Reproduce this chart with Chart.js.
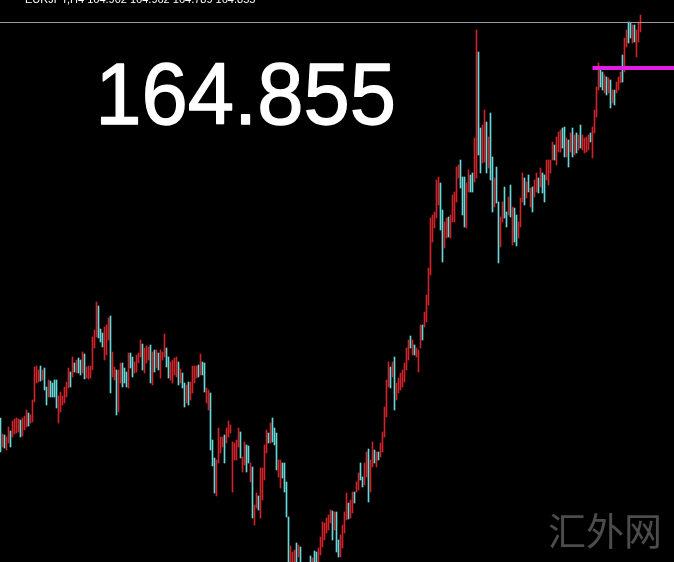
<!DOCTYPE html>
<html>
<head>
<meta charset="utf-8">
<script src="https://cdn.jsdelivr.net/npm/chart.js@4/dist/chart.umd.min.js"></script>
<style>
html,body{margin:0;padding:0;background:#000;overflow:hidden;}
canvas{display:block;}
</style>
</head>
<body>
<canvas id="c" width="674" height="562"></canvas>
<script>
// Bar highs (price), one per bar, left to right
const highs = [
157.88,157.56,157.54,157.50,157.70,157.62,157.82,157.86,157.88,157.86,
157.84,157.88,157.92,158.04,157.98,157.94,158.24,158.90,158.92,158.84,
158.92,158.84,158.88,158.50,158.64,158.62,158.58,158.64,158.64,158.32,
158.40,158.32,158.50,158.60,158.88,158.80,159.10,158.98,159.04,159.08,
159.04,159.20,159.16,158.90,158.92,158.92,159.50,159.64,160.20,160.12,
159.66,159.58,159.70,159.74,159.88,159.92,159.20,158.90,158.84,158.84,
158.98,158.98,158.88,158.80,159.18,159.18,159.10,159.00,159.14,159.18,
159.44,159.36,159.28,159.32,159.30,159.34,159.20,159.24,159.24,159.18,
159.24,159.20,159.56,159.28,159.10,159.00,159.04,159.08,159.10,159.00,
158.86,158.78,158.58,158.54,158.60,158.60,158.92,158.92,158.92,158.94,
159.16,159.00,158.98,158.48,158.44,158.38,157.44,157.08,157.04,157.68,
157.50,157.50,157.54,157.68,157.82,157.74,157.40,157.38,157.44,157.68,
157.60,157.10,157.40,157.34,157.32,156.98,156.90,156.14,156.38,156.32,
156.88,156.88,157.34,157.64,157.58,157.78,157.88,157.68,157.58,157.04,
157.04,156.98,156.98,156.60,155.90,155.32,155.20,155.24,155.38,155.34,
155.30,154.94,154.92,154.88,154.92,155.12,155.08,155.22,155.20,155.28,
155.50,155.80,155.78,155.88,155.94,156.04,156.02,156.00,156.00,155.44,
155.54,155.74,156.00,156.38,156.18,156.24,156.40,156.40,156.60,156.78,
156.98,156.70,156.98,157.20,157.26,157.04,157.40,157.24,157.20,157.20,
157.38,157.60,158.10,158.64,159.00,158.90,159.00,159.10,158.58,158.68,
158.78,158.84,158.98,159.28,159.44,159.52,159.44,159.34,159.28,159.24,
159.74,159.74,160.00,160.34,160.88,161.88,161.94,162.00,162.64,162.70,
162.58,162.04,161.80,161.88,161.90,161.94,162.34,162.40,162.90,162.94,
163.04,162.70,162.70,162.58,162.84,162.74,162.78,163.48,165.64,165.20,
163.68,163.74,164.04,163.80,163.50,163.98,163.10,162.68,162.90,162.20,
161.90,162.20,162.50,162.00,162.30,162.54,162.10,162.08,161.94,161.80,
162.28,162.78,162.68,162.60,162.74,162.48,162.50,162.64,162.78,162.68,
162.88,162.78,162.74,163.04,163.04,163.04,163.40,163.34,163.50,163.60,
163.64,163.68,163.70,163.48,163.44,163.58,163.68,163.54,163.58,163.54,
163.74,163.54,163.48,163.50,163.54,163.58,163.70,164.04,164.50,164.98,
164.90,164.80,164.74,164.70,164.68,164.64,164.44,164.44,164.60,164.70,
164.80,165.14,165.48,165.64,165.80,165.78,165.74,165.74,165.64,165.78,
165.94
];
// Bar lows (price)
const lows = [
157.20,157.30,157.28,157.24,157.38,157.30,157.50,157.56,157.58,157.60,
157.50,157.52,157.64,157.70,157.72,157.78,157.80,158.20,158.58,158.60,
158.62,158.64,158.44,158.14,158.30,158.30,158.30,158.30,158.08,157.78,
158.00,158.14,158.18,158.30,158.48,158.50,158.70,158.80,158.78,158.78,
158.74,158.78,158.66,158.68,158.66,158.68,158.84,159.28,159.50,159.48,
159.40,159.30,159.04,159.14,159.44,158.38,158.70,158.64,157.94,158.00,
158.58,158.50,158.58,158.50,158.48,158.88,158.70,158.78,158.80,158.98,
159.10,158.84,158.78,158.98,159.04,158.58,158.54,158.80,158.88,158.84,
158.68,159.04,159.10,158.90,158.68,158.64,158.58,158.74,158.70,158.54,
158.58,158.48,158.10,158.18,158.14,158.24,158.38,158.58,158.68,158.70,
158.74,158.74,158.40,158.18,158.04,157.24,156.92,156.38,156.32,156.98,
157.18,157.30,156.98,157.38,157.50,157.58,156.40,157.04,157.04,157.30,
157.08,156.80,156.94,156.80,156.98,156.60,155.88,155.74,156.08,156.04,
155.88,156.24,156.64,157.18,157.38,157.38,157.40,157.34,156.84,156.70,
156.48,156.68,156.40,155.90,154.84,154.88,154.84,154.88,154.74,155.10,
154.74,154.64,154.68,154.54,154.64,154.80,154.84,154.88,154.92,154.94,
155.14,155.30,155.44,155.58,155.64,155.78,155.44,155.64,155.20,155.10,
155.10,155.28,155.58,155.84,155.86,155.88,155.98,156.18,156.40,156.44,
156.64,156.50,156.54,156.70,156.20,156.40,156.90,156.98,156.90,157.04,
157.10,157.20,157.50,157.90,158.50,158.48,158.70,158.04,158.24,158.38,
158.44,158.50,158.60,158.84,159.04,159.28,159.14,159.14,159.10,158.80,
159.28,159.44,159.70,159.80,160.14,160.74,161.40,161.68,161.88,162.14,
161.64,161.00,161.28,161.48,161.50,161.48,161.80,161.80,162.20,162.68,
162.48,161.94,161.70,161.68,162.40,162.40,162.40,162.60,162.68,163.14,
162.78,162.98,163.00,162.78,162.88,162.64,162.00,162.10,162.18,160.98,
161.30,161.80,161.88,161.70,161.94,161.90,161.34,161.40,161.32,161.48,
161.70,162.20,162.14,162.28,162.40,162.10,162.00,162.30,162.40,162.38,
162.50,162.38,162.20,162.64,162.54,162.78,163.04,163.04,162.94,163.20,
163.20,163.28,163.10,163.10,162.90,163.20,163.10,163.14,163.18,163.24,
163.28,163.24,163.18,163.20,163.24,163.40,163.08,163.58,163.90,164.44,
164.50,164.44,164.38,164.34,164.38,164.08,164.18,164.14,164.38,164.44,
164.58,164.60,164.80,165.30,165.38,165.48,165.38,165.40,165.10,165.40,
165.60
];
// Bar direction: u = up (red), d = down (cyan)
const directions = (
"duduuduuuu" + "duuuduuuuu" + "dudduddddu" + "uuuuududud" + "duduuuuuud" +
"dduuuduudu" + "udddudduuu" + "uduuududud" + "uuudduuuud" + "udduduuuud" +
"udduuddduu" + "uuduuuuuuu" + "duudduduud" + "uuuududddu" + "udddduuudu" +
"ddudududdu" + "uuuuuududd" + "uuuuduuduu" + "dduuduudud" + "uuuuududuu" +
"uuuuududuu" + "uduuuuuuuu" + "dduuduuuuu" + "ddduudduud" + "duududdudd" +
"uuddududdu" + "uudududuud" + "udduuuuduu" + "uddudududu" + "duuuuduuuu" +
"ddudududuu" + "uduudduduu" + "u").split("");

const priceText = "164.855";
const levelLine = [164.88];     // magenta horizontal level
const levelStart = [296];       // bar index where the magenta level begins
const topLine = [165.79];       // grey line near the top
const headerText = ["EURJPY,H4 164.902 164.962 164.789 164.855"];
const watermark = "汇外网";

const RED = "#cc2428";
const CYAN = "#66d8d8";
const nSlots = 337;

const barData = highs.map((h, i) => ({ x: i, y: [lows[i], h] }));
const barColors = directions.map(d => d === "u" ? RED : CYAN);

const overlay = {
  id: "overlay",
  beforeDraw(chart) {
    const ctx = chart.ctx;
    ctx.save();
    ctx.fillStyle = "#000";
    ctx.fillRect(0, 0, chart.width, chart.height);
    // watermark
    ctx.fillStyle = "#4c4c4c";
    ctx.font = '38px "Noto Sans CJK SC"';
    ctx.textBaseline = "alphabetic";
    ctx.fillText(watermark, 548, 545);
    ctx.restore();
  },
  afterDraw(chart) {
    const ctx = chart.ctx;
    ctx.save();
    // header (cut off at the top)
    ctx.fillStyle = "#ffffff";
    ctx.font = '11px "Liberation Sans"';
    ctx.textBaseline = "alphabetic";
    ctx.fillText(headerText[0], 25, 3);
    // big price text
    ctx.fillStyle = "#ffffff";
    ctx.strokeStyle = "#ffffff";
    ctx.lineJoin = "round";
    ctx.font = '100px "Liberation Sans"';
    const m = ctx.measureText(priceText);
    const targetW = 292, targetH = 62;
    const sx = targetW / (m.actualBoundingBoxLeft + m.actualBoundingBoxRight);
    const sy = targetH / (m.actualBoundingBoxAscent + m.actualBoundingBoxDescent);
    ctx.translate(101 + m.actualBoundingBoxLeft * sx, 125 - m.actualBoundingBoxDescent * sy);
    ctx.scale(sx, sy);
    ctx.lineWidth = 1.5;
    ctx.fillText(priceText, 0, 0);
    ctx.strokeText(priceText, 0, 0);
    ctx.restore();
  }
};

new Chart(document.getElementById("c"), {
  type: "bar",
  data: {
    datasets: [
      {
        type: "bar",
        data: barData,
        backgroundColor: barColors,
        borderWidth: 0,
        barThickness: 1,
        order: 3
      },
      {
        type: "line",
        data: [{ x: -0.25, y: topLine[0] }, { x: nSlots - 0.25, y: topLine[0] }],
        borderColor: "#9a9aa6",
        borderWidth: 1,
        pointRadius: 0,
        fill: false,
        order: 2
      },
      {
        type: "line",
        data: [{ x: levelStart[0], y: levelLine[0] }, { x: nSlots, y: levelLine[0] }],
        borderColor: "#e21ee2",
        borderWidth: 4,
        pointRadius: 0,
        fill: false,
        order: 1
      }
    ]
  },
  options: {
    responsive: false,
    animation: false,
    devicePixelRatio: 1,
    layout: { padding: 0 },
    plugins: { legend: { display: false }, tooltip: { enabled: false } },
    scales: {
      x: { type: "linear", offset: false, min: -0.25, max: nSlots - 0.25, display: false },
      y: { min: 155.0, max: 166.24, display: false }
    }
  },
  plugins: [overlay]
});
</script>
</body>
</html>
